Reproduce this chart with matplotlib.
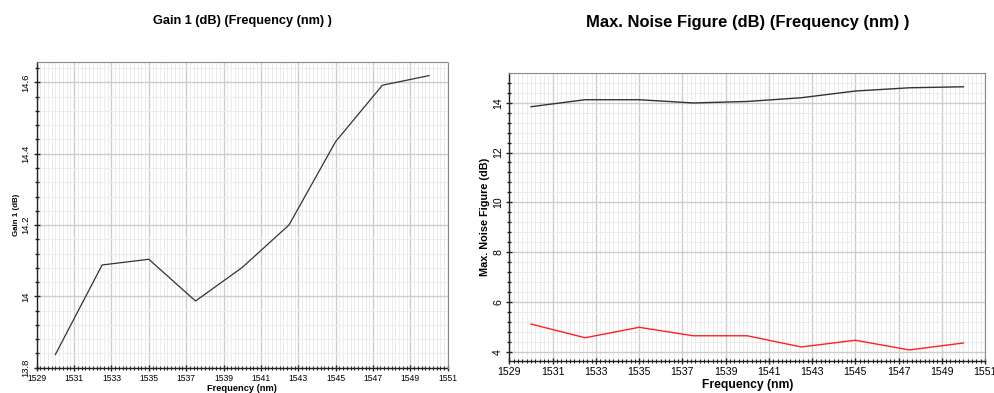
import matplotlib
matplotlib.use("Agg")
import matplotlib.pyplot as plt
from matplotlib.ticker import MultipleLocator

plt.rcParams['font.family'] = ['Liberation Sans', 'DejaVu Sans']

freq = [1530, 1532.5, 1535, 1537.5, 1540, 1542.5, 1545, 1547.5, 1550]
gain_db = [13.837, 14.088, 14.104, 13.987, 14.081, 14.200, 14.434, 14.592, 14.619]
nf_black = [13.84, 14.12, 14.12, 13.99, 14.05, 14.20, 14.47, 14.60, 14.64]
nf_red = [5.11, 4.56, 4.98, 4.64, 4.64, 4.19, 4.46, 4.07, 4.35]
x_ticks = [1529, 1531, 1533, 1535, 1537, 1539, 1541, 1543, 1545, 1547, 1549, 1551]

fig = plt.figure(figsize=(9.95, 3.93), dpi=100)
ax1 = fig.add_axes([0.0369, 0.0644, 0.4131, 0.7786])
ax2 = fig.add_axes([0.512, 0.0814, 0.478, 0.732])


def style(ax, ymajor, yminor, xtick_fs, ytick_fs):
    ax.set_xlim(1529, 1551)
    ax.set_xticks(x_ticks)
    ax.xaxis.set_minor_locator(MultipleLocator(0.2))
    ax.yaxis.set_major_locator(MultipleLocator(ymajor))
    ax.yaxis.set_minor_locator(MultipleLocator(yminor))
    ax.grid(which='major', color='#cccccc', linewidth=1.0)
    ax.grid(which='minor', color='#ececec', linewidth=0.7)
    ax.set_axisbelow(True)
    for s in ['top', 'right']:
        ax.spines[s].set_linestyle((0, (1, 1)))
        ax.spines[s].set_color('#888888')
        ax.spines[s].set_linewidth(0.8)
    ax.spines['bottom'].set_linestyle((0, (1, 1)))
    ax.spines['bottom'].set_color('#222222')
    ax.spines['bottom'].set_linewidth(1.0)
    ax.spines['left'].set_color('#222222')
    ax.spines['left'].set_linewidth(1.0)
    ax.tick_params(axis='x', which='major', direction='inout', length=5, width=1,
                   labelsize=xtick_fs, pad=2, color='#222222')
    ax.tick_params(axis='x', which='minor', direction='inout', length=3, width=0.8,
                   color='#222222')
    ax.tick_params(axis='y', which='major', direction='inout', length=5, width=1,
                   labelsize=ytick_fs, pad=2, color='#222222')
    ax.tick_params(axis='y', which='minor', direction='inout', length=3, width=1,
                   color='#222222')


# Left chart
ax1.plot(freq, gain_db, color='#333333', linewidth=0.9)
ax1.set_ylim(13.8, 14.658)
style(ax1, 0.2, 0.04, 6.2, 6.8)
ax1.set_yticks([13.8, 14.0, 14.2, 14.4, 14.6])
ax1.set_yticklabels(['13.8', '14', '14.2', '14.4', '14.6'], rotation=90, va='center')
ax1.set_xlabel('Frequency (nm)', fontsize=6.7, fontweight='bold', labelpad=1)
ax1.set_ylabel('Gain 1 (dB)', fontsize=5.7, fontweight='bold', labelpad=1)
fig.text(0.244, 1 - 21 / 393, 'Gain 1 (dB) (Frequency (nm) )', ha='center', va='center',
         fontsize=9.2, fontweight='bold')

# Right chart
ax2.plot(freq, nf_black, color='#333333', linewidth=1.0)
ax2.plot(freq, nf_red, color='#ff2020', linewidth=1.0)
ax2.set_ylim(3.626, 15.18)
style(ax2, 2, 0.4, 7.6, 7.6)
ax2.set_yticks([4, 6, 8, 10, 12, 14])
ax2.set_yticklabels(['4', '6', '8', '10', '12', '14'], rotation=90, va='center')
ax2.set_xlabel('Frequency (nm)', fontsize=8.7, fontweight='bold', labelpad=1)
ax2.set_ylabel('Max. Noise Figure (dB)', fontsize=7.8, fontweight='bold', labelpad=2)
fig.text(0.752, 1 - 22 / 393, 'Max. Noise Figure (dB) (Frequency (nm) )', ha='center',
         va='center', fontsize=11.9, fontweight='bold')

fig.savefig('out.png', dpi=100)
